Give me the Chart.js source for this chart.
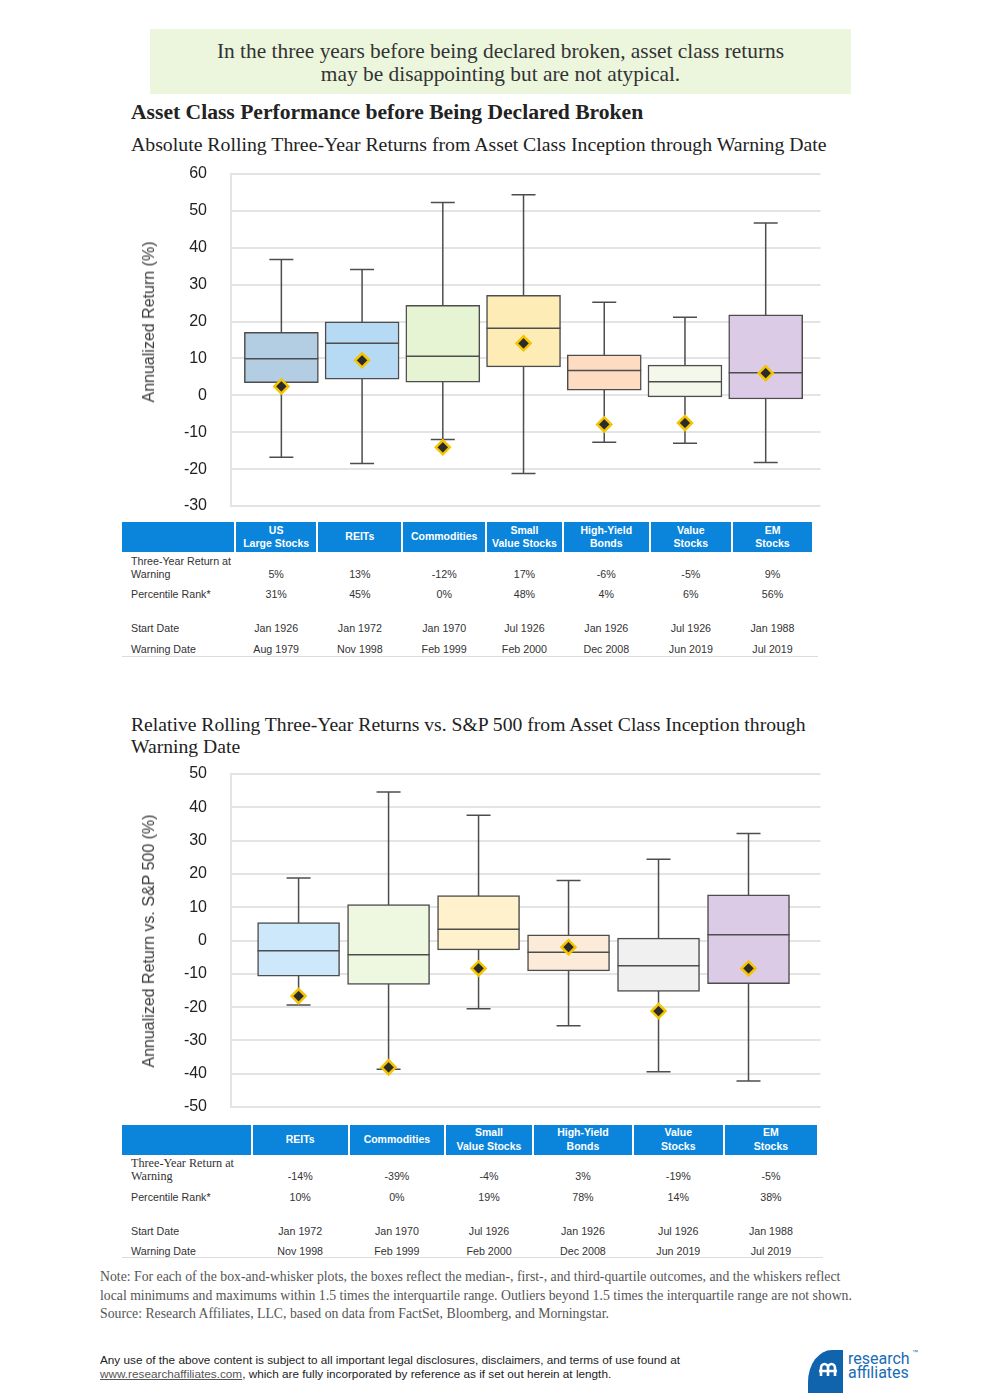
<!DOCTYPE html>
<html>
<head>
<meta charset="utf-8">
<script src="https://cdn.jsdelivr.net/npm/chart.js@4.4.1/dist/chart.umd.min.js"></script>
<style>
  body { margin: 0; background: #fff; }
  #page { position: relative; width: 1000px; height: 1398px; overflow: hidden; font-family: "Liberation Sans", Arial, sans-serif; color: #222; }
  .abs { position: absolute; white-space: nowrap; }
  .serif { font-family: "Liberation Serif", "Times New Roman", serif; }
  .banner { left: 150px; top: 29px; width: 701px; height: 65px; background: #ebf6dd; }
  .banner-text { left: 150px; width: 701px; text-align: center; font-size: 21.4px; line-height: 23px; color: #333; }
  .ytitle { font-size: 16px; color: #3a3a3a; transform: translate(-50%, -50%) rotate(-90deg); line-height: 18px; }
  .th { position: absolute; background: #0b84db; color: #fff; font-weight: bold; font-size: 10.5px; line-height: 13.5px;
        display: flex; align-items: center; justify-content: center; text-align: center; }
  .td { position: absolute; font-size: 10.7px; line-height: 13px; color: #333; white-space: nowrap; transform: translateY(-50%); }
  .td.c { transform: translate(-50%, -50%); }
  canvas { position: absolute; }
</style>
</head>
<body>
<div id="page">
  <div class="abs banner"></div>
  <div class="abs serif banner-text" style="top:39.5px">In the three years before being declared broken, asset class returns<br>may be disappointing but are not atypical.</div>

  <div class="abs serif" style="left:131px; top:100px; font-size:21.6px; line-height:24px; font-weight:bold; color:#222">Asset Class Performance before Being Declared Broken</div>
  <div class="abs serif" style="left:131px; top:132px; font-size:19.8px; line-height:24px; color:#222">Absolute Rolling Three-Year Returns from Asset Class Inception through Warning Date</div>

  <canvas id="absChart" width="700" height="356" style="left:130px; top:160px"></canvas>
  <div class="abs ytitle" style="left:149px; top:322px">Annualized Return (%)</div>
  <div id="absTable"></div>

  <div class="abs serif" style="left:131px; top:713px; font-size:19.65px; line-height:22px; color:#222">Relative Rolling Three-Year Returns vs. S&amp;P 500 from Asset Class Inception through<br>Warning Date</div>

  <canvas id="relChart" width="700" height="360" style="left:130px; top:760px"></canvas>
  <div class="abs ytitle" style="left:149px; top:941px">Annualized Return vs. S&amp;P 500 (%)</div>
  <div id="relTable"></div>

  <div class="abs serif" style="left:100px; top:1268px; font-size:13.75px; line-height:18.5px; color:#555">Note: For each of the box-and-whisker plots, the boxes reflect the median-, first-, and third-quartile outcomes, and the whiskers reflect<br>local minimums and maximums within 1.5 times the interquartile range. Outliers beyond 1.5 times the interquartile range are not shown.<br>Source: Research Affiliates, LLC, based on data from FactSet, Bloomberg, and Morningstar.</div>

  <div class="abs" style="left:100px; top:1353px; font-size:11.75px; line-height:14px; color:#222">Any use of the above content is subject to all important legal disclosures, disclaimers, and terms of use found at<br><span style="text-decoration:underline; color:#555">www.researchaffiliates.com</span>, which are fully incorporated by reference as if set out herein at length.</div>

  <svg class="abs" style="left:800px; top:1340px" width="130" height="58">
    <path d="M43,10 H32 A24,32 0 0 0 8,42 V53 H43 Z" fill="#1063ad"/>
    <path d="M21,36 V28 A3.5,4 0 0 1 28,28 V36 M28,28 A3.5,4 0 0 1 35,28 V36 M19,31 H37" stroke="#fff" stroke-width="2.6" fill="none"/>
  </svg>
  <div class="abs" style="left:848px; top:1352px; font-family:Roboto, sans-serif; font-size:16px; line-height:14px; color:#1a6cb6">research<br>affiliates</div>
  <div class="abs" style="left:912px; top:1349px; font-size:6px; color:#1a6cb6">™</div>
</div>

<script>
// ---------- absolute returns (top chart)
const ABS_CATEGORIES = ['US Large Stocks', 'REITs', 'Commodities', 'Small Value Stocks', 'High-Yield Bonds', 'Value Stocks', 'EM Stocks'];
const ABS_HEADERS    = ['US<br>Large Stocks', 'REITs', 'Commodities', 'Small<br>Value Stocks', 'High-Yield<br>Bonds', 'Value<br>Stocks', 'EM<br>Stocks'];
const ABS_MIN        = [-16.8, -18.5, -12.0, -21.2, -12.7, -13.0, -18.2];
const ABS_Q1         = [3.4, 4.4, 3.6, 7.7, 1.4, -0.4, -1.0];
const ABS_MEDIAN     = [9.9, 14.1, 10.6, 18.2, 6.7, 3.7, 6.1];
const ABS_Q3         = [17.1, 19.9, 24.4, 27.1, 11.0, 8.2, 21.8];
const ABS_MAX        = [36.8, 34.1, 52.3, 54.4, 25.2, 21.2, 46.7];
const ABS_AT_WARNING = [2.4, 9.5, -14.1, 14.1, -7.9, -7.5, 6.0];
const ABS_COLORS     = ['#b3cde3', '#b6d9f4', '#e6f4d3', '#fdecb6', '#fddcc2', '#f4f8ea', '#dccbe6'];
const ABS_RET_TXT    = ['5%', '13%', '-12%', '17%', '-6%', '-5%', '9%'];
const ABS_RANK_TXT   = ['31%', '45%', '0%', '48%', '4%', '6%', '56%'];
const ABS_START      = ['Jan 1926', 'Jan 1972', 'Jan 1970', 'Jul 1926', 'Jan 1926', 'Jul 1926', 'Jan 1988'];
const ABS_WARNING    = ['Aug 1979', 'Nov 1998', 'Feb 1999', 'Feb 2000', 'Dec 2008', 'Jun 2019', 'Jul 2019'];

// ---------- relative to S&P 500 (bottom chart)
const REL_CATEGORIES = ['REITs', 'Commodities', 'Small Value Stocks', 'High-Yield Bonds', 'Value Stocks', 'EM Stocks'];
const REL_HEADERS    = ['REITs', 'Commodities', 'Small<br>Value Stocks', 'High-Yield<br>Bonds', 'Value<br>Stocks', 'EM<br>Stocks'];
const REL_MIN        = [-19.4, -38.7, -20.5, -25.6, -39.4, -42.2];
const REL_Q1         = [-10.7, -13.2, -2.8, -9.1, -15.3, -13.0];
const REL_MEDIAN     = [-3.1, -4.3, 3.4, -3.5, -7.6, 1.7];
const REL_Q3         = [5.4, 10.8, 13.5, 1.7, 0.7, 13.7];
const REL_MAX        = [18.8, 44.6, 37.6, 18.0, 24.4, 32.1];
const REL_AT_WARNING = [-16.7, -38.1, -8.4, -2.0, -21.2, -8.4];
const REL_COLORS     = ['#cde7fb', '#eef8e1', '#fff1cc', '#fdebd9', '#f0f0f0', '#dccbe6'];
const REL_RET_TXT    = ['-14%', '-39%', '-4%', '3%', '-19%', '-5%'];
const REL_RANK_TXT   = ['10%', '0%', '19%', '78%', '14%', '38%'];
const REL_START      = ['Jan 1972', 'Jan 1970', 'Jul 1926', 'Jan 1926', 'Jul 1926', 'Jan 1988'];
const REL_WARNING    = ['Nov 1998', 'Feb 1999', 'Feb 2000', 'Dec 2008', 'Jun 2019', 'Jul 2019'];

const LINE_COLOR = '#4d4d4d';
const GRID_COLOR = '#e4e4e4';

// whiskers behind the boxes, medians on top of them (diamonds drawn after)
function whiskerPlugin(min, max, median) {
    return {
        id: 'whiskers',
        beforeDatasetDraw(chart, args) {
            if (args.index !== 0) return;
            const { ctx, scales: { y } } = chart;
            ctx.save();
            ctx.strokeStyle = LINE_COLOR;
            ctx.lineWidth = 1.5;
            chart.getDatasetMeta(0).data.forEach((bar, i) => {
                const x = bar.x;
                const top = y.getPixelForValue(max[i]);
                const bot = y.getPixelForValue(min[i]);
                ctx.beginPath();
                ctx.moveTo(x, top); ctx.lineTo(x, bot);
                ctx.moveTo(x - 12, top); ctx.lineTo(x + 12, top);
                ctx.moveTo(x - 12, bot); ctx.lineTo(x + 12, bot);
                ctx.stroke();
            });
            ctx.restore();
        },
        afterDatasetDraw(chart, args) {
            if (args.index !== 0) return;
            const { ctx, scales: { y } } = chart;
            ctx.save();
            ctx.strokeStyle = LINE_COLOR;
            ctx.lineWidth = 1.5;
            chart.getDatasetMeta(0).data.forEach((bar, i) => {
                const ym = y.getPixelForValue(median[i]);
                ctx.beginPath();
                ctx.moveTo(bar.x - bar.width / 2, ym);
                ctx.lineTo(bar.x + bar.width / 2, ym);
                ctx.stroke();
            });
            ctx.restore();
        }
    };
}

function boxChart(id, s) {
    return new Chart(document.getElementById(id), {
        type: 'bar',
        data: {
            datasets: [
                {
                    label: 'IQR',
                    data: s.q1.map((v, i) => ({ x: i, y: [v, s.q3[i]] })),
                    backgroundColor: s.colors,
                    borderColor: LINE_COLOR,
                    borderWidth: 1.5,
                    borderSkipped: false,
                    barThickness: s.barWidth,
                    order: 1
                },
                {
                    type: 'line',
                    label: 'At warning',
                    data: s.atWarning.map((v, i) => ({ x: i, y: v })),
                    showLine: false,
                    pointStyle: 'rectRot',
                    pointRadius: 7,
                    pointBackgroundColor: '#2b2b2b',
                    pointBorderColor: '#f5c400',
                    pointBorderWidth: 2.5,
                    order: 0
                }
            ]
        },
        options: {
            responsive: false,
            animation: false,
            layout: { padding: { top: 14, right: 6, bottom: s.padBottom, left: 0 } },
            plugins: { legend: { display: false }, tooltip: { enabled: false } },
            scales: {
                x: { type: 'linear', display: false, offset: false, min: s.xMin, max: s.xMax },
                y: {
                    min: s.yMin, max: s.yMax,
                    // tick marks are invisible, their length just pushes the labels left
                    ticks: { stepSize: 10, padding: 0, color: '#222', font: { family: 'Liberation Sans', size: 16 } },
                    grid: { color: GRID_COLOR, lineWidth: 2, drawTicks: true, tickLength: 24, tickColor: 'rgba(0,0,0,0)' },
                    border: { display: true, color: GRID_COLOR, width: 2 },
                    afterFit(scale) { scale.width = 101; }
                }
            }
        },
        plugins: [whiskerPlugin(s.min, s.max, s.median)]
    });
}

boxChart('absChart', {
    min: ABS_MIN, q1: ABS_Q1, median: ABS_MEDIAN, q3: ABS_Q3, max: ABS_MAX,
    atWarning: ABS_AT_WARNING, colors: ABS_COLORS,
    yMin: -30, yMax: 60, xMin: -0.624, xMax: 6.679, barWidth: 74, padBottom: 10
});
boxChart('relChart', {
    min: REL_MIN, q1: REL_Q1, median: REL_MEDIAN, q3: REL_Q3, max: REL_MAX,
    atWarning: REL_AT_WARNING, colors: REL_COLORS,
    yMin: -50, yMax: 50, xMin: -0.751, xMax: 5.80, barWidth: 82, padBottom: 13
});

// tables under the charts
function buildTable(el, t) {
    let html = '';
    html += `<div class="th" style="left:122px; top:${t.top}px; width:${t.cols[0] - 123}px; height:${t.h}px"></div>`;
    t.headers.forEach((h, i) => {
        const l = t.cols[i] + 1, w = t.cols[i + 1] - t.cols[i] - 2;
        html += `<div class="th" style="left:${l}px; top:${t.top}px; width:${w}px; height:${t.h}px">${h}</div>`;
    });
    const labelFont = t.serifLabel ? 'font-family:\'Liberation Serif\',serif; font-size:12.2px;' : '';
    html += `<div class="td" style="left:131px; top:${t.rows[0] - 13}px; ${labelFont}">Three-Year Return at</div>`;
    html += `<div class="td" style="left:131px; top:${t.rows[0]}px; ${labelFont}">Warning</div>`;
    html += `<div class="td" style="left:131px; top:${t.rows[1]}px">Percentile Rank*</div>`;
    html += `<div class="td" style="left:131px; top:${t.rows[2]}px">Start Date</div>`;
    html += `<div class="td" style="left:131px; top:${t.rows[3]}px">Warning Date</div>`;
    [t.ret, t.rank, t.start, t.warn].forEach((row, r) => {
        row.forEach((txt, i) => {
            const cx = (t.cols[i] + t.cols[i + 1]) / 2;
            html += `<div class="td c" style="left:${cx}px; top:${t.rows[r]}px">${txt}</div>`;
        });
    });
    html += `<div style="position:absolute; left:122px; top:${t.line}px; width:${t.cols[t.cols.length - 1] - 117}px; height:1px; background:#dcdcdc"></div>`;
    el.innerHTML = html;
}

buildTable(document.getElementById('absTable'), {
    top: 522, h: 30, cols: [235, 317.3, 402.4, 486, 562.9, 649.7, 732, 813],
    headers: ABS_HEADERS, ret: ABS_RET_TXT, rank: ABS_RANK_TXT, start: ABS_START, warn: ABS_WARNING,
    rows: [573.7, 594.3, 628.3, 649], line: 655.5, serifLabel: false
});
buildTable(document.getElementById('relTable'), {
    top: 1125, h: 29.5, cols: [251.5, 348.9, 444.9, 533.1, 632.8, 723.8, 818],
    headers: REL_HEADERS, ret: REL_RET_TXT, rank: REL_RANK_TXT, start: REL_START, warn: REL_WARNING,
    rows: [1175.7, 1196.7, 1230.7, 1250.7], line: 1256.5, serifLabel: true
});
</script>
</body>
</html>
